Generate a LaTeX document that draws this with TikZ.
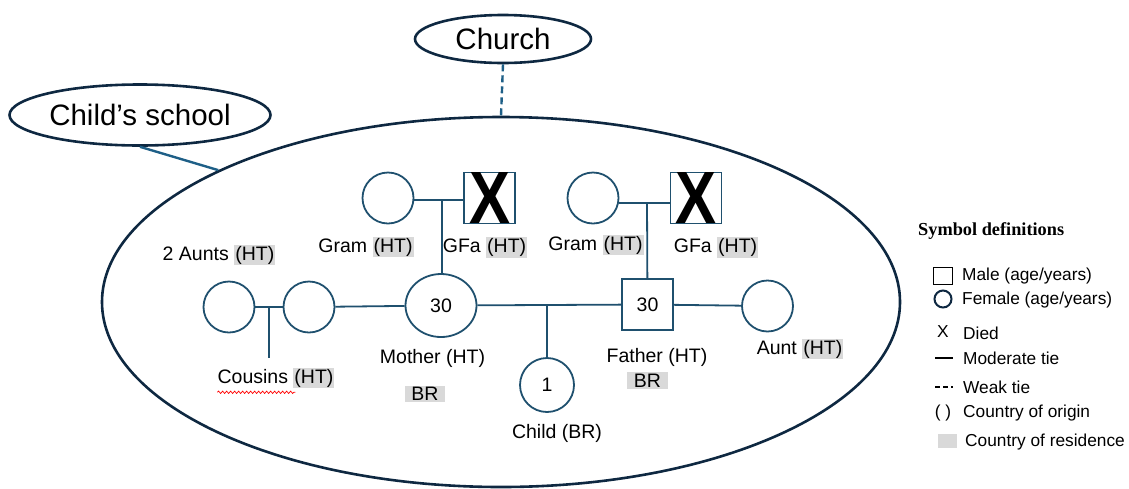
\documentclass[tikz,border=0pt]{standalone}
\usepackage{fontspec}
\setmainfont{Liberation Sans}
\newfontfamily\legserif{Liberation Serif}
\usetikzlibrary{shapes.geometric,decorations.pathmorphing}
\definecolor{rim}{RGB}{14,40,65}
\definecolor{gen}{RGB}{31,80,110}
\definecolor{tie}{RGB}{30,95,135}
\definecolor{hl}{RGB}{217,217,217}
\newcommand{\lblfont}{\fontsize{19.5}{23}\selectfont}
\newcommand{\placefont}{\fontsize{29.5}{34}\selectfont}
\newcommand{\legfont}{\fontsize{17.3}{20}\selectfont}
\newcommand{\deadX}{\resizebox{41pt}{51pt}{\bfseries X}}
\newcommand{\hlt}[1]{{\setlength{\fboxsep}{1pt}\colorbox{hl}{#1}}}
\begin{document}
\begin{tikzpicture}[x=1pt,y=-1pt,
  lab/.style={inner sep=0pt, font=\lblfont},
  leg/.style={inner sep=0pt, anchor=west, font=\legfont},
  fem/.style={circle, draw=gen, line width=1.8pt, minimum size=51pt, inner sep=0pt, font=\lblfont},
  mal/.style={rectangle, draw=gen, line width=1.8pt, minimum size=51pt, inner sep=0pt, font=\lblfont},
  cross/.style={inner sep=0pt},
  link/.style={draw=gen, line width=1.8pt},
  place/.style={ellipse, draw=rim, line width=2.6pt, inner sep=0pt, font=\placefont},
  res/.style={fill=hl, inner xsep=6.5pt, inner ysep=1.5pt, font=\lblfont}]
\useasboundingbox (0,0) rectangle (1129,488);

% places
\node[place, minimum width=798pt, minimum height=370pt] (fam) at (501,302) {};
\node[place, minimum width=176pt, minimum height=48pt] (church) at (503,39) {Church};
\node[place, minimum width=261pt, minimum height=61pt] (school) at (140,115) {Child’s school};
\draw[tie, line width=2.4pt, dash pattern=on 7pt off 4pt] (church.south) -- (fam.north);
\draw[tie, line width=2.4pt] (school.south) -- (fam.155);

% grandparents (mother side)
\node[fem] (gramL) at (388,198) {};
\node[mal] (gfaL) at (489.5,198) {};
\node[cross] (xL) at (gfaL.center) {\deadX};
\coordinate (jL) at (442,200);
\draw[link] (gramL.east |- jL) -- (gfaL.west |- jL);
% grandparents (father side)
\node[fem] (gramR) at (593,198) {};
\node[mal] (gfaR) at (696,198) {};
\node[cross] (xR) at (gfaR.center) {\deadX};
\coordinate (jR) at (647,203);
\draw[link] (gramR.east |- jR) -- (gfaR.west |- jR);

% main row
\node[fem] (auntA) at (229,307) {};
\node[fem] (auntB) at (309,307) {};
\node[ellipse, draw=gen, line width=1.8pt, minimum width=71pt, minimum height=63pt, inner sep=0pt, font=\lblfont] (mother) at (441,305.5) {30};
\node[mal] (father) at (647.5,304.5) {30};
\node[fem] (auntR) at (767.5,306) {};
\node[fem, minimum size=54pt] (child) at (547,385) {1};

\draw[link] (auntA) -- (auntB);
\coordinate (jA) at (269,307);
\coordinate (cous) at (269,358);
\draw[link] (jA) -- (cous);
\draw[link] (auntB) -- (mother);
\draw[link] (mother) -- (father);
\draw[link] (father) -- (auntR);
\coordinate (jC) at (547,305);
\draw[link] (jC) -- (child);
\draw[link] (jL) -- (jL |- mother.north);
\draw[link] (jR) -- (father);

% labels
\node[lab] (tGramL) at (366,247) {Gram \hlt{(HT)}};
\node[lab] (tGfaL) at (485,247.5) {GFa \hlt{(HT)}};
\node[lab] (tGramR) at (596,245) {Gram \hlt{(HT)}};
\node[lab] (tGfaR) at (716,247.5) {GFa \hlt{(HT)}};
\node[lab] (tAunts) at (219,255) {2 Aunts \hlt{(HT)}};
\node[lab] (tCous) at (276,378) {Cousins \hlt{(HT)}};
\draw[red, line width=0.7pt, decorate, decoration={snake, amplitude=1.2pt, segment length=4pt}]
  ([yshift=-4pt]tCous.south west) -- ([xshift=78pt,yshift=-4pt]tCous.south west);
\node[lab] (tMother) at (432.5,358) {Mother (HT)};
\node[res] (bMother) at (425,394) {BR};
\node[lab] (tChild) at (557,433) {Child (BR)};
\node[lab] (tFather) at (657,357) {Father (HT)};
\node[res] (bFather) at (647.5,380.5) {BR};
\node[lab] (tAunt) at (800,349) {Aunt \hlt{(HT)}};

% legend
\node[inner sep=0pt, anchor=west, font=\fontsize{18.3}{21}\selectfont\legserif\bfseries] (legT) at (918,231) {Symbol definitions};
\node[draw=black, line width=1.8pt, minimum width=19pt, minimum height=17pt, inner sep=0pt] (lgM) at (943,276) {};
\node[leg] (lgMt) at (962,276) {Male (age/years)};
\node[circle, draw=rim, line width=2pt, minimum size=17pt, inner sep=0pt] (lgF) at (943,299) {};
\node[leg] (lgFt) at (962,300) {Female (age/years)};
\node[inner sep=0pt, font=\legfont] (lgX) at (943,332) {X};
\node[leg] (lgXt) at (963,333) {Died};
\coordinate (lgS1) at (935,358);
\coordinate (lgS2) at (953,358);
\draw[black, line width=1.6pt] (lgS1) -- (lgS2);
\node[leg] (lgSt) at (963,358) {Moderate tie};
\coordinate (lgW1) at (935,387);
\coordinate (lgW2) at (953,387);
\draw[black, line width=1.6pt, dash pattern=on 5pt off 3pt] (lgW1) -- (lgW2);
\node[leg] (lgWt) at (963,387) {Weak tie};
\node[inner sep=0pt, font=\legfont] (lgO) at (943,413) {( )};
\node[leg] (lgOt) at (963,413) {Country of origin};
\node[fill=hl, minimum width=19pt, minimum height=14pt, inner sep=0pt] (lgR) at (947,441) {};
\node[leg] (lgRt) at (965,442) {Country of residence};
\end{tikzpicture}
\end{document}
